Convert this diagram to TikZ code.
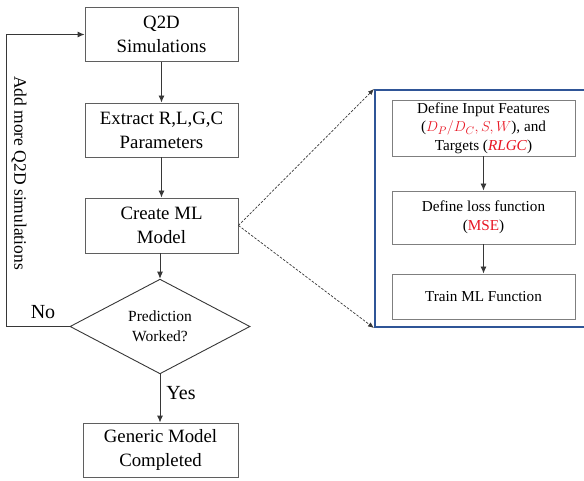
\documentclass[tikz,border=0pt]{standalone}
\usepackage{fontspec}
\setmainfont{Liberation Serif}
\usetikzlibrary{shapes.geometric,arrows.meta}
\definecolor{boxgray}{RGB}{95,95,95}
\definecolor{linegray}{RGB}{55,55,55}
\definecolor{panelblue}{RGB}{47,85,151}
\definecolor{hired}{RGB}{232,22,35}
\begin{document}
\begin{tikzpicture}[x=1pt,y=-1pt,
  mainbox/.style={draw=boxgray,line width=0.9pt,rectangle,minimum width=153pt,align=center,
    font=\fontsize{18.8}{24}\selectfont,inner sep=0pt},
  subbox/.style={draw=boxgray!80,line width=0.9pt,rectangle,minimum width=183pt,align=center,
    font=\fontsize{15.2}{18.5}\selectfont,inner sep=0pt},
  arr/.style={draw=linegray,line width=0.9pt,-{Latex[length=7pt,width=6pt]}},
  darr/.style={draw=linegray,line width=0.7pt,dashed,dash pattern=on 2.5pt off 1.5pt,-{Latex[length=6pt,width=5pt]}},
  lbl/.style={font=\fontsize{20}{24}\selectfont,inner sep=0pt}]
\useasboundingbox (0,0) rectangle (584,481);
\clip (0,0) rectangle (584,481);

\node[mainbox,minimum height=54pt] (q2d) at (161.5,34.5) {Q2D\\Simulations};
\node[mainbox,minimum height=54pt] (ext) at (161.5,130) {Extract R,L,G,C\\Parameters};
\node[mainbox,minimum height=55pt] (ml) at (161.5,225.5) {Create ML\\Model};
\node[draw=linegray,line width=0.9pt,diamond,minimum width=180pt,minimum height=87pt,inner sep=0pt,
  align=center,font=\fontsize{15.5}{20}\selectfont] (dia) at (160,326.5) {Prediction\\Worked?};
\node[mainbox,minimum width=155pt,minimum height=54pt] (gen) at (160.5,450) {Generic Model\\Completed};

\draw[arr] (q2d) -- (ext);
\draw[arr] (ext) -- (ml);
\draw[arr] (ml.south -| dia.north) -- (dia.north);
\draw[arr] (dia.south) -- (gen.north -| dia.south);
\draw[arr] (dia.west) -- ++(-63,0) |- (q2d.west);

\node[lbl] (no) at (43,312) {No};
\node[lbl] (yes) at (181,393) {Yes};
\node[lbl,rotate=-90,font=\fontsize{17.5}{20}\selectfont] (add) at (19,173) {Add more Q2D simulations};

\node[draw=panelblue,line width=2pt,rectangle,minimum width=225pt,minimum height=237pt,inner sep=0pt] (panel) at (487.5,208.5) {};

\node[subbox,minimum height=56pt] (feat) at (483.5,128) {Define Input Features\\(\textcolor{hired}{$D_P/D_C,S,W$}), and\\Targets (\textcolor{hired}{\textit{RLGC}})};
\node[subbox,minimum height=53pt] (loss) at (483.5,217.5) {Define loss function\\(\textcolor{hired}{MSE})};
\node[subbox,minimum height=45pt] (train) at (483.5,296.5) {Train ML Function};

\draw[arr] (feat) -- (loss);
\draw[arr] (loss) -- (train);

\draw[darr] (ml.east) -- (panel.north west);
\draw[darr] (ml.east) -- (panel.south west);
\end{tikzpicture}
\end{document}
